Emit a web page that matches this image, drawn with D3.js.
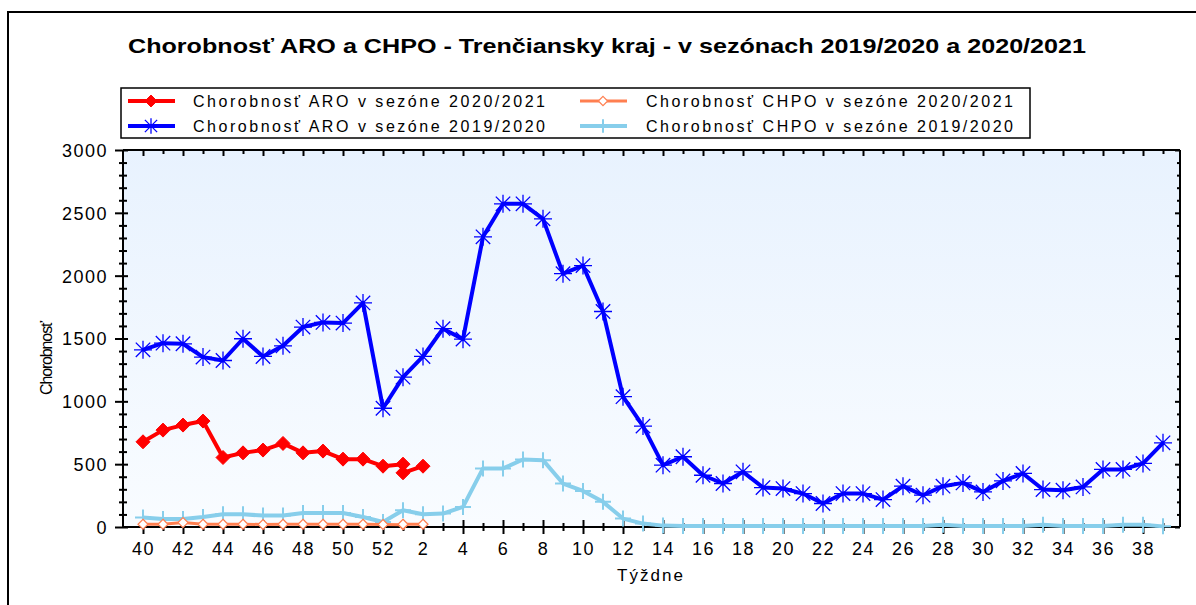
<!DOCTYPE html>
<html>
<head>
<meta charset="utf-8">
<script src="https://cdnjs.cloudflare.com/ajax/libs/d3/7.8.5/d3.min.js"></script>
<style>
  body { margin: 0; background: #fff; }
  svg text { font-family: "Liberation Sans", Arial, sans-serif; fill: #000; }
  .tick-label { font-size: 18px; letter-spacing: 1.5px; }
  .legend-text { font-size: 16px; }
</style>
</head>
<body>
<div id="container"></div>
<script>
// week categories on the x axis (season runs from week 40 to week 39)
const weeks = [40,41,42,43,44,45,46,47,48,49,50,51,52,1,2,3,4,5,6,7,8,9,10,11,12,13,14,15,16,17,18,19,20,21,22,23,24,25,26,27,28,29,30,31,32,33,34,35,36,37,38,39];

// season 2019/2020
const aro2019 = [1410,1463,1458,1352,1325,1498,1357,1442,1591,1628,1623,1783,945,1192,1357,1578,1495,2309,2572,2572,2452,2016,2080,1715,1037,803,492,559,412,346,439,314,306,266,187,266,266,218,325,253,325,351,279,367,426,298,293,319,458,458,506,670];
const chpo2019 = [75,64,64,80,101,101,91,91,112,112,112,80,40,133,101,107,160,466,466,537,532,346,287,200,67,27,11,8,8,8,8,8,8,8,8,8,8,8,8,8,18,8,8,8,8,18,8,8,8,18,18,5];

// season 2020/2021 (has a week 53, drawn at the place of week 1)
const weeks2021 = [40,41,42,43,44,45,46,47,48,49,50,51,52,53,1,2];
const aro2021 = [678,771,811,843,553,590,612,665,590,604,540,540,484,500,431,484];
const chpo2021 = [22,22,35,22,22,22,20,22,22,22,22,22,20,18,22,22];

const yTicks = [0,500,1000,1500,2000,2500,3000];

const legendNames = [
  "Chorobnosť ARO v sezóne 2020/2021",
  "Chorobnosť CHPO v sezóne 2020/2021",
  "Chorobnosť ARO v sezóne 2019/2020",
  "Chorobnosť CHPO v sezóne 2019/2020"
];

const width = 1196;
const height = 605;
const pLeft = 123, pRight = 1180, pTop = 150, pBottom = 527;

const svg = d3.select("#container")
  .append("svg")
  .attr("width", width)
  .attr("height", height);

// gradient for the plot area
const grad = svg.append("defs").append("linearGradient")
  .attr("id", "bg").attr("x1", 0).attr("y1", 0).attr("x2", 0).attr("y2", 1);
grad.append("stop").attr("offset", "0%").attr("stop-color", "#e8f2fe");
grad.append("stop").attr("offset", "100%").attr("stop-color", "#f9fcff");

// outer frame (left + top only)
svg.append("path")
  .attr("d", "M8,605 L8,12 L1196,12")
  .attr("fill", "none")
  .attr("stroke", "#000")
  .attr("stroke-width", 2);

// title
svg.append("text")
  .attr("x", 607)
  .attr("y", 53)
  .attr("text-anchor", "middle")
  .attr("textLength", 958)
  .attr("lengthAdjust", "spacingAndGlyphs")
  .style("font-size", "21px")
  .style("font-weight", "bold")
  .text("Chorobnosť ARO a CHPO - Trenčiansky kraj - v sezónach 2019/2020 a 2020/2021");

// scales
const x = d3.scaleLinear().domain([-1, 51.85]).range([pLeft, pRight]);
const y = d3.scaleLinear().domain([0, 3000]).range([pBottom, pTop]);

const weekIndex = w => (w === 53 ? weeks.indexOf(1) : weeks.indexOf(w));

svg.append("rect")
  .attr("x", pLeft).attr("y", pTop)
  .attr("width", pRight - pLeft).attr("height", pBottom - pTop)
  .attr("fill", "url(#bg)");

// y axis (left): major every 500, minor every 100
const yMinor = d3.range(0, 3001, 100).filter(v => v % 500 !== 0);
svg.append("g")
  .attr("transform", "translate(" + pLeft + ",0)")
  .call(d3.axisLeft(y).tickValues(yMinor).tickSize(4).tickFormat(""))
  .call(g => g.selectAll(".tick line").attr("x2", 4).attr("x1", -4).attr("stroke-width", 2))
  .call(g => g.select(".domain").remove());
svg.append("g")
  .attr("transform", "translate(" + pLeft + ",0)")
  .call(d3.axisLeft(y).tickValues(yTicks).tickSize(8).tickPadding(7).tickFormat(d3.format("d")))
  .call(g => g.selectAll(".tick line").attr("x1", 5).attr("stroke-width", 2))
  .call(g => g.selectAll(".tick text").attr("class", "tick-label").attr("dy", "0.36em"))
  .call(g => g.select(".domain").attr("stroke-width", 2).attr("d", "M0," + pTop + "V" + pBottom))
  .attr("font-size", null).attr("font-family", null);

// right axis ticks (inside)
svg.append("g")
  .attr("transform", "translate(" + pRight + ",0)")
  .call(d3.axisRight(y).tickValues(yMinor).tickSize(-3).tickFormat(""))
  .call(g => g.selectAll(".tick line").attr("stroke-width", 2))
  .call(g => g.select(".domain").remove());
svg.append("g")
  .attr("transform", "translate(" + pRight + ",0)")
  .call(d3.axisRight(y).tickValues(yTicks).tickSize(-5).tickFormat(""))
  .call(g => g.selectAll(".tick line").attr("stroke-width", 2))
  .call(g => g.select(".domain").attr("stroke-width", 2).attr("d", "M0," + pTop + "V" + pBottom));

// x axis (bottom)
const idx = d3.range(weeks.length);
const evenIdx = idx.filter(i => i % 2 === 0);
const oddIdx = idx.filter(i => i % 2 === 1);

svg.append("g")
  .attr("transform", "translate(0," + pBottom + ")")
  .call(d3.axisBottom(x).tickValues(oddIdx).tickSize(4).tickFormat(""))
  .call(g => g.selectAll(".tick line").attr("y1", -4).attr("stroke-width", 2))
  .call(g => g.select(".domain").remove());
svg.append("g")
  .attr("transform", "translate(0," + pBottom + ")")
  .call(d3.axisBottom(x).tickValues(evenIdx).tickSize(7).tickPadding(8).tickFormat(i => weeks[i]))
  .call(g => g.selectAll(".tick line").attr("y1", -7).attr("stroke-width", 2))
  .call(g => g.selectAll(".tick text").attr("class", "tick-label"))
  .call(g => g.select(".domain").attr("stroke-width", 2).attr("d", "M" + pLeft + ",0H" + pRight))
  .attr("font-size", null).attr("font-family", null);

// top axis ticks (inside)
svg.append("g")
  .attr("transform", "translate(0," + pTop + ")")
  .call(d3.axisTop(x).tickValues(oddIdx).tickSize(-4).tickFormat(""))
  .call(g => g.selectAll(".tick line").attr("stroke-width", 2))
  .call(g => g.select(".domain").remove());
svg.append("g")
  .attr("transform", "translate(0," + pTop + ")")
  .call(d3.axisTop(x).tickValues(evenIdx).tickSize(-6).tickFormat(""))
  .call(g => g.selectAll(".tick line").attr("stroke-width", 2))
  .call(g => g.select(".domain").attr("stroke-width", 2).attr("d", "M" + pLeft + ",0H" + pRight));

// axis titles
svg.append("text")
  .attr("transform", "translate(52,358) rotate(-90)")
  .attr("text-anchor", "middle")
  .attr("textLength", 74)
  .style("font-size", "16px")
  .text("Chorobnosť");

svg.append("text")
  .attr("x", 650)
  .attr("y", 581)
  .attr("text-anchor", "middle")
  .attr("textLength", 66)
  .style("font-size", "17px")
  .text("Týždne");

// markers
function asterisk(g, r) {
  g.append("path")
    .attr("d", "M0," + (-r) + "V" + r + "M" + (-r) + ",0H" + r +
      "M" + (-r * 0.8) + "," + (-r * 0.8) + "L" + (r * 0.8) + "," + (r * 0.8) +
      "M" + (-r * 0.8) + "," + (r * 0.8) + "L" + (r * 0.8) + "," + (-r * 0.8));
}
function cross(g, r) {
  g.append("path").attr("d", "M0," + (-r) + "V" + r + "M" + (-r) + ",0H" + r);
}
function diamond(g, r) {
  g.append("path").attr("d", "M0," + (-r) + "L" + r + ",0L0," + r + "L" + (-r) + ",0Z");
}

const line = d3.line().x(d => x(d.i)).y(d => y(d.v));

function series(data, color, lw, marker, r, fill, mw) {
  const g = svg.append("g");
  g.append("path")
    .datum(data)
    .attr("fill", "none")
    .attr("stroke", color)
    .attr("stroke-width", lw)
    .attr("stroke-linejoin", "round")
    .attr("d", line);
  g.selectAll("g.m")
    .data(data)
    .enter()
    .append("g")
    .attr("class", "m")
    .attr("transform", d => "translate(" + x(d.i) + "," + y(d.v) + ")")
    .attr("stroke", color)
    .attr("stroke-width", mw)
    .attr("fill", fill)
    .each(function () { marker(d3.select(this), r); });
}

const d2019aro = aro2019.map((v, i) => ({ i: i, v: v }));
const d2019chpo = chpo2019.map((v, i) => ({ i: i, v: v }));
const d2021aro = aro2021.map((v, k) => ({ i: weekIndex(weeks2021[k]), v: v }));
const d2021chpo = chpo2021.map((v, k) => ({ i: weekIndex(weeks2021[k]), v: v }));

series(d2019chpo, "#87ceeb", 4, cross, 8, "none", 2);
series(d2021chpo, "#ff7f50", 3, diamond, 5, "#fff", 1.2);
series(d2019aro, "#0000ff", 4, asterisk, 9, "none", 1.3);
series(d2021aro, "#ff0000", 4, diamond, 7, "#ff0000", 1);

// legend
const legend = svg.append("g").attr("id", "legend");
legend.append("rect")
  .attr("x", 121).attr("y", 88)
  .attr("width", 909).attr("height", 50)
  .attr("fill", "#fff")
  .attr("stroke", "#000")
  .attr("stroke-width", 1.5);

const legendItems = [
  { name: legendNames[0], color: "#ff0000", lw: 4, marker: diamond, r: 7, fill: "#ff0000", mw: 1, lx: 128, ly: 101, tx: 193, tl: 352 },
  { name: legendNames[1], color: "#ff7f50", lw: 3, marker: diamond, r: 5.5, fill: "#fff", mw: 1.2, lx: 580, ly: 101, tx: 646, tl: 367 },
  { name: legendNames[2], color: "#0000ff", lw: 4, marker: asterisk, r: 9, fill: "none", mw: 1.3, lx: 128, ly: 126, tx: 193, tl: 352 },
  { name: legendNames[3], color: "#87ceeb", lw: 4, marker: cross, r: 8, fill: "none", mw: 2, lx: 580, ly: 126, tx: 646, tl: 367 }
];

legendItems.forEach(function (it) {
  const g = legend.append("g");
  g.append("line")
    .attr("x1", it.lx).attr("x2", it.lx + 47)
    .attr("y1", it.ly).attr("y2", it.ly)
    .attr("stroke", it.color)
    .attr("stroke-width", it.lw);
  const m = g.append("g")
    .attr("transform", "translate(" + (it.lx + 23) + "," + it.ly + ")")
    .attr("stroke", it.color)
    .attr("stroke-width", it.mw)
    .attr("fill", it.fill);
  it.marker(m, it.r * 0.85);
  g.append("text")
    .attr("class", "legend-text")
    .attr("x", it.tx)
    .attr("y", it.ly + 6)
    .attr("textLength", it.tl)
    .attr("lengthAdjust", "spacing")
    .text(it.name);
});
</script>
</body>
</html>
